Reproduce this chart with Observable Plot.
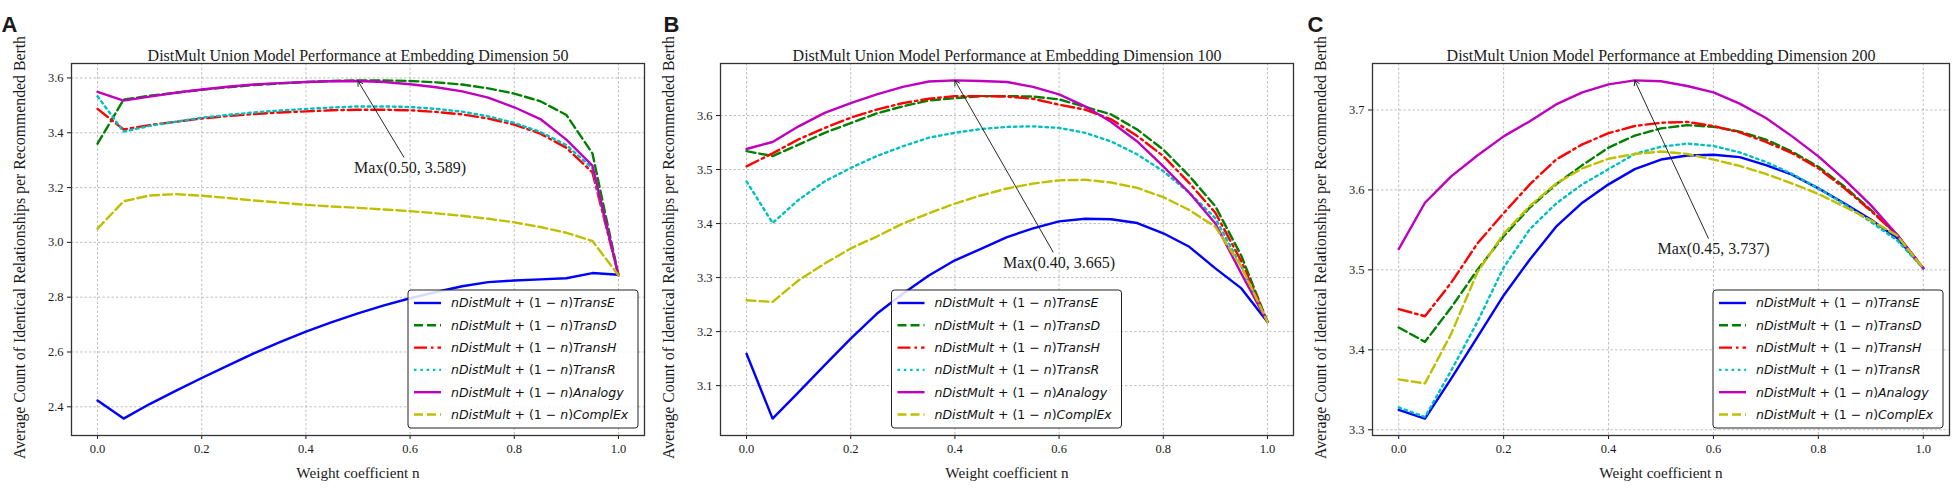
<!DOCTYPE html>
<html>
<head>
<meta charset="utf-8">
<script src="https://cdn.jsdelivr.net/npm/d3@7"></script>
<script src="https://cdn.jsdelivr.net/npm/@observablehq/plot@0.6"></script>
<style>
  body { margin: 0; background: #fff; }
  #row { display: flex; width: 1953px; height: 489px; }
  #row svg { flex: none; }
</style>
</head>
<body>
<div id="row"></div>
<script>
// weight coefficient n
const weights = [0.00, 0.05, 0.10, 0.15, 0.20, 0.25, 0.30, 0.35, 0.40, 0.45, 0.50,
                 0.55, 0.60, 0.65, 0.70, 0.75, 0.80, 0.85, 0.90, 0.95, 1.00];
const modelNames = ["TransE", "TransD", "TransH", "TransR", "Analogy", "ComplEx"];
const xTicks = [0.0, 0.2, 0.4, 0.6, 0.8, 1.0];

// embedding dimension 50
const dim50TransE  = [2.423, 2.357, 2.410, 2.458, 2.505, 2.550, 2.595, 2.636, 2.674, 2.709, 2.741, 2.770, 2.796, 2.819, 2.840, 2.855, 2.861, 2.865, 2.869, 2.888, 2.882];
const dim50TransD  = [3.360, 3.521, 3.535, 3.546, 3.557, 3.566, 3.574, 3.580, 3.585, 3.589, 3.591, 3.591, 3.589, 3.584, 3.576, 3.562, 3.543, 3.515, 3.465, 3.325, 2.880];
const dim50TransH  = [3.487, 3.412, 3.428, 3.440, 3.452, 3.461, 3.468, 3.474, 3.478, 3.482, 3.484, 3.484, 3.482, 3.476, 3.467, 3.452, 3.430, 3.397, 3.345, 3.255, 2.880];
const dim50TransR  = [3.533, 3.404, 3.425, 3.440, 3.455, 3.465, 3.474, 3.481, 3.487, 3.492, 3.496, 3.496, 3.494, 3.487, 3.477, 3.460, 3.436, 3.403, 3.355, 3.270, 2.880];
const dim50Analogy = [3.549, 3.517, 3.532, 3.546, 3.558, 3.568, 3.576, 3.581, 3.585, 3.588, 3.589, 3.585, 3.577, 3.566, 3.551, 3.528, 3.493, 3.450, 3.375, 3.280, 2.880];
const dim50ComplEx = [3.050, 3.150, 3.171, 3.176, 3.170, 3.162, 3.153, 3.145, 3.137, 3.131, 3.126, 3.120, 3.114, 3.106, 3.097, 3.086, 3.073, 3.056, 3.035, 3.005, 2.880];

// embedding dimension 100
const dim100TransE  = [3.159, 3.039, 3.088, 3.138, 3.187, 3.233, 3.270, 3.304, 3.332, 3.353, 3.375, 3.391, 3.404, 3.409, 3.408, 3.401, 3.382, 3.357, 3.317, 3.280, 3.218];
const dim100TransD  = [3.534, 3.525, 3.546, 3.568, 3.586, 3.604, 3.617, 3.628, 3.632, 3.636, 3.636, 3.635, 3.630, 3.616, 3.602, 3.574, 3.537, 3.488, 3.432, 3.340, 3.218];
const dim100TransH  = [3.506, 3.530, 3.556, 3.577, 3.596, 3.611, 3.623, 3.631, 3.636, 3.636, 3.635, 3.631, 3.620, 3.611, 3.593, 3.562, 3.525, 3.475, 3.420, 3.330, 3.218];
const dim100TransR  = [3.478, 3.401, 3.444, 3.478, 3.503, 3.525, 3.543, 3.559, 3.568, 3.575, 3.579, 3.580, 3.577, 3.568, 3.552, 3.528, 3.497, 3.457, 3.410, 3.320, 3.218];
const dim100Analogy = [3.538, 3.551, 3.580, 3.605, 3.623, 3.639, 3.653, 3.663, 3.665, 3.664, 3.662, 3.653, 3.639, 3.617, 3.588, 3.552, 3.506, 3.457, 3.400, 3.307, 3.218];
const dim100ComplEx = [3.258, 3.255, 3.295, 3.326, 3.354, 3.376, 3.400, 3.419, 3.437, 3.452, 3.465, 3.474, 3.480, 3.481, 3.476, 3.466, 3.449, 3.425, 3.394, 3.320, 3.218];

// embedding dimension 200
const dim200TransE  = [3.325, 3.314, 3.364, 3.416, 3.468, 3.513, 3.554, 3.584, 3.607, 3.626, 3.638, 3.643, 3.644, 3.641, 3.631, 3.619, 3.602, 3.583, 3.563, 3.540, 3.502];
const dim200TransD  = [3.428, 3.410, 3.453, 3.500, 3.542, 3.578, 3.607, 3.631, 3.653, 3.668, 3.677, 3.681, 3.679, 3.673, 3.663, 3.648, 3.629, 3.604, 3.575, 3.544, 3.502];
const dim200TransH  = [3.451, 3.442, 3.484, 3.533, 3.571, 3.607, 3.638, 3.657, 3.671, 3.680, 3.684, 3.685, 3.680, 3.672, 3.660, 3.646, 3.627, 3.602, 3.574, 3.544, 3.502];
const dim200TransR  = [3.328, 3.316, 3.374, 3.435, 3.503, 3.551, 3.583, 3.607, 3.626, 3.645, 3.654, 3.658, 3.655, 3.647, 3.635, 3.620, 3.602, 3.582, 3.560, 3.537, 3.502];
const dim200Analogy = [3.526, 3.584, 3.617, 3.643, 3.667, 3.686, 3.707, 3.722, 3.732, 3.737, 3.736, 3.730, 3.722, 3.708, 3.690, 3.667, 3.642, 3.613, 3.581, 3.544, 3.502];
const dim200ComplEx = [3.363, 3.358, 3.420, 3.497, 3.545, 3.580, 3.608, 3.627, 3.639, 3.645, 3.648, 3.645, 3.638, 3.630, 3.620, 3.608, 3.595, 3.579, 3.562, 3.543, 3.502];

const yTicks50  = [2.4, 2.6, 2.8, 3.0, 3.2, 3.4, 3.6];
const yTicks100 = [3.1, 3.2, 3.3, 3.4, 3.5, 3.6];
const yTicks200 = [3.3, 3.4, 3.5, 3.6, 3.7];

// matplotlib-ish line styles
const lineStyle = {
  TransE:  {color: "#0000ff", dash: null},
  TransD:  {color: "#008000", dash: "9,4"},
  TransH:  {color: "#ff0000", dash: "13,4,2.5,4"},
  TransR:  {color: "#00bfbf", dash: "2.5,3.8"},
  Analogy: {color: "#bf00bf", dash: null},
  ComplEx: {color: "#bfbf00", dash: "9,4"}
};

const serif = "'Liberation Serif', 'Times New Roman', serif";

const panels = [
  {letter: "A", dim: 50,  values: [dim50TransE, dim50TransD, dim50TransH, dim50TransR, dim50Analogy, dim50ComplEx],
   yTicks: yTicks50,  ml: 71, mr: 7, letterX: 1,  legend: "right",  noteY: 3.273},
  {letter: "B", dim: 100, values: [dim100TransE, dim100TransD, dim100TransH, dim100TransR, dim100Analogy, dim100ComplEx],
   yTicks: yTicks100, ml: 69, mr: 9, letterX: 12, legend: "center", noteY: 3.328},
  {letter: "C", dim: 200, values: [dim200TransE, dim200TransD, dim200TransH, dim200TransR, dim200Analogy, dim200ComplEx],
   yTicks: yTicks200, ml: 70, mr: 4, letterX: 5,  legend: "right",  noteY: 3.526}
];

function drawPanel(cfg) {
  const W = 651, H = 489, mt = 63, mb = 54;
  const rows = [];
  modelNames.forEach((m, k) => cfg.values[k].forEach((v, i) => rows.push({n: weights[i], v, model: m})));
  const lo = d3.min(rows, d => d.v), hi = d3.max(rows, d => d.v), pad = (hi - lo) * 0.05;

  // max of the Analogy curve
  const ana = cfg.values[4];
  const bi = d3.maxIndex(ana);
  const note = {tx: 0.6, ty: cfg.noteY, mx: weights[bi], my: ana[bi],
                label: `Max(${weights[bi].toFixed(2)}, ${ana[bi].toFixed(3)})`};

  const gridStyle = {stroke: "#b0b0b0", strokeOpacity: 1, strokeWidth: 0.8, strokeDasharray: "2.5,2"};

  const svg = Plot.plot({
    width: W, height: H,
    marginLeft: cfg.ml, marginRight: cfg.mr, marginTop: mt, marginBottom: mb,
    style: {fontFamily: serif, fontSize: "12.5px", color: "#1a1a1a", background: "white", overflow: "visible"},
    x: {domain: [-0.05, 1.05]},
    y: {domain: [lo - pad, hi + pad]},
    marks: [
      Plot.gridX(xTicks, gridStyle),
      Plot.gridY(cfg.yTicks, gridStyle),
      Plot.axisX(xTicks, {tickFormat: d3.format(".1f"), tickSize: 4, tickPadding: 5, label: null}),
      Plot.axisY(cfg.yTicks, {tickFormat: d3.format(".1f"), tickSize: 4, tickPadding: 4, label: null}),
      ...modelNames.map(m => Plot.line(rows.filter(d => d.model === m), {
        x: "n", y: "v", stroke: lineStyle[m].color, strokeWidth: 2.4,
        strokeDasharray: lineStyle[m].dash || undefined
      })),
      Plot.frame({stroke: "#333", strokeWidth: 1.3}),
      Plot.arrow([note], {x1: "tx", y1: "ty", x2: "mx", y2: "my", stroke: "#111",
                          strokeWidth: 0.9, headLength: 9, insetStart: 12}),
      Plot.text([note], {x: "tx", y: "ty", text: "label", fontSize: 16}),
      Plot.text([`DistMult Union Model Performance at Embedding Dimension ${cfg.dim}`],
                {frameAnchor: "top", dy: -14, fontSize: 16}),
      Plot.text(["Weight coefficient n"], {frameAnchor: "bottom", dy: 42, fontSize: 15.2}),
      Plot.text(["Average Count of Identical Relationships per Recommended Berth"],
                {frameAnchor: "left", dx: -52, dy: -2, rotate: -90, textAnchor: "middle", fontSize: 15.8}),
      Plot.text([cfg.letter], {frameAnchor: "top-left", dx: cfg.letterX - cfg.ml, dy: -47,
                               textAnchor: "start", fontSize: 22, fontWeight: "bold",
                               fontFamily: "'Liberation Sans', Arial, sans-serif"})
    ]
  });

  // legend box
  const lw = 230, lh = 138;
  const lx = cfg.legend === "center"
    ? cfg.ml + (W - cfg.ml - cfg.mr) / 2 - lw / 2
    : W - cfg.mr - 6 - lw;
  const ly = H - mb - 7 - lh;
  const g = d3.select(svg).append("g").attr("transform", `translate(${lx},${ly})`);
  g.append("rect").attr("width", lw).attr("height", lh).attr("rx", 3)
    .attr("fill", "white").attr("fill-opacity", 0.85)
    .attr("stroke", "#222").attr("stroke-width", 1);
  modelNames.forEach((m, i) => {
    const y = 13 + i * 22.3;
    g.append("line").attr("x1", 6).attr("x2", 33).attr("y1", y).attr("y2", y)
      .attr("stroke", lineStyle[m].color).attr("stroke-width", 2.4)
      .attr("stroke-dasharray", lineStyle[m].dash);
    const t = g.append("text").attr("x", 43).attr("y", y).attr("dy", "0.35em")
      .attr("text-anchor", "start")
      .attr("font-family", "'DejaVu Sans', sans-serif").attr("font-size", 12.5).attr("fill", "#111");
    t.append("tspan").attr("font-style", "italic").text("nDistMult");
    t.append("tspan").text(" + (1 \u2212 ");
    t.append("tspan").attr("font-style", "italic").text("n");
    t.append("tspan").text(")");
    t.append("tspan").attr("font-style", "italic").text(m);
  });
  return svg;
}

const row = document.getElementById("row");
panels.forEach(p => row.appendChild(drawPanel(p)));
</script>
</body>
</html>
